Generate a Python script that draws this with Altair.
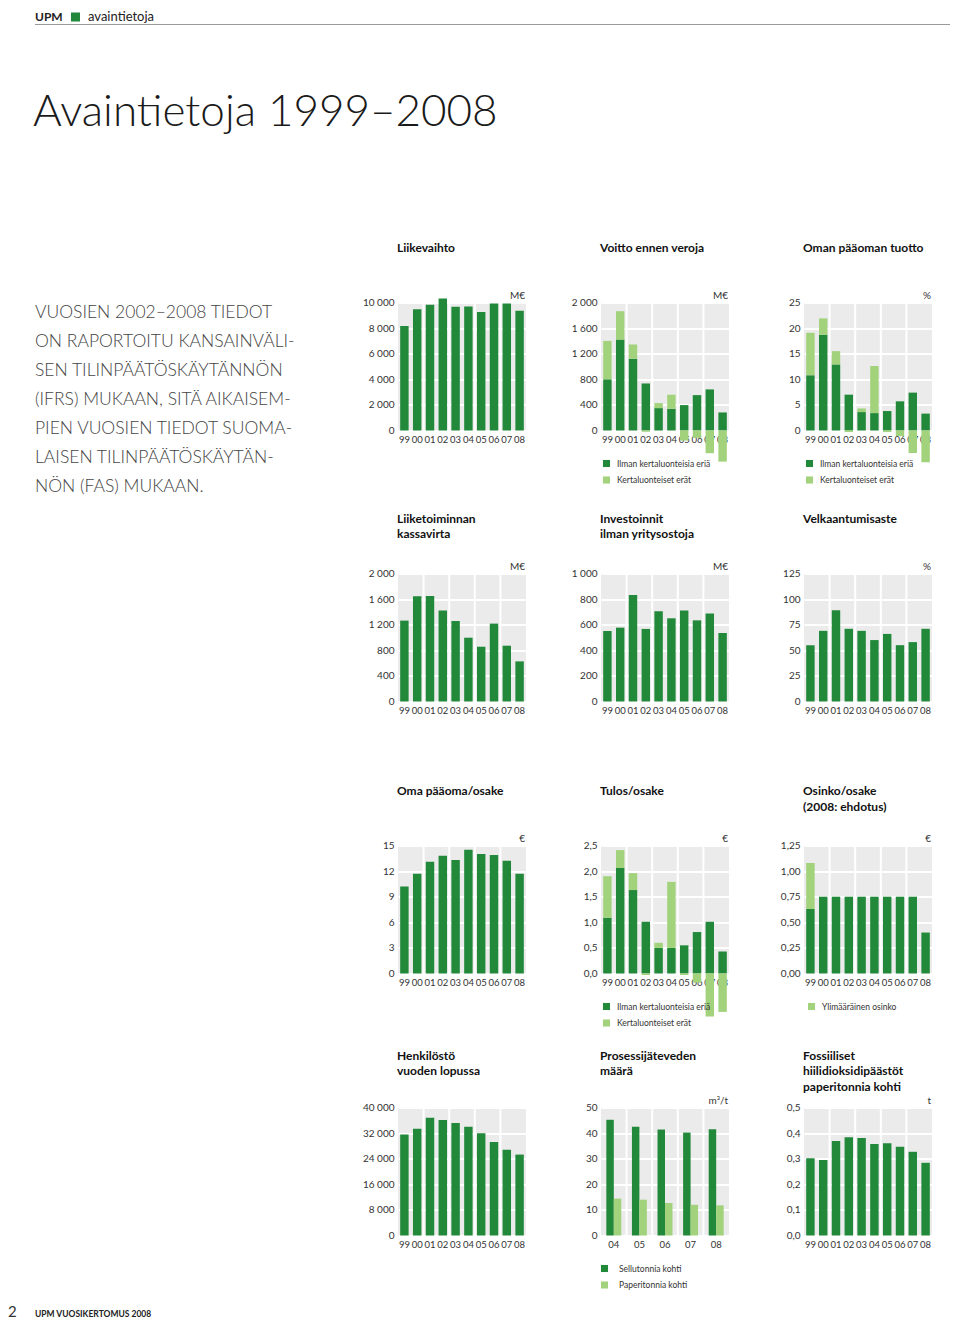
import altair as alt
import pandas as pd

FONT = "Lato"
DARK = "#22893b"
LIGHT = "#a2d27c"
GRAY = "#ebebeb"
TXT = "#333333"
W = 128
H = 128

# ---------------- data ----------------
years = ["99", "00", "01", "02", "03", "04", "05", "06", "07", "08"]
liikevaihto = [8170, 9480, 9820, 10310, 9660, 9690, 9250, 9920, 9920, 9360]
voitto_ilman = [800, 1420, 1120, 735, 350, 340, 397, 553, 642, 282]
voitto_kerta = [600, 444, 224, -20, 78, 219, -157, -115, -355, -486]
roe_ilman = [10.8, 18.7, 12.9, 7.0, 3.6, 3.4, 3.8, 5.7, 7.4, 3.3]
roe_kerta = [8.3, 3.2, 2.6, -0.3, 0.7, 9.2, -0.3, -1.1, -4.4, -6.2]
kassavirta = [1264, 1645, 1650, 1420, 1258, 997, 856, 1217, 872, 627]
investoinnit = [551, 577, 833, 567, 705, 650, 710, 634, 687, 535]
velkaantumisaste = [55, 69, 89, 71, 69, 60, 66, 55, 58, 71]
oma_paaoma = [10.2, 11.7, 13.1, 13.8, 13.3, 14.5, 14.0, 13.9, 13.2, 11.7]
tulos_ilman = [1.09, 2.06, 1.63, 1.01, 0.50, 0.50, 0.55, 0.81, 1.01, 0.43]
tulos_kerta = [0.81, 0.35, 0.33, -0.03, 0.10, 1.29, -0.03, -0.18, -0.84, -0.75]
osinko = [0.63, 0.75, 0.75, 0.75, 0.75, 0.75, 0.75, 0.75, 0.75, 0.40]
osinko_ylim = [0.45, 0, 0, 0, 0, 0, 0, 0, 0, 0]
henkilosto = [31540, 33330, 36830, 36100, 35130, 33970, 31960, 29210, 26770, 25290]
water_years = ["04", "05", "06", "07", "08"]
sellu = [45.2, 42.5, 41.4, 40.2, 41.5]
paperi = [14.4, 14.0, 12.7, 12.0, 11.8]
co2 = [0.302, 0.295, 0.369, 0.384, 0.381, 0.357, 0.360, 0.347, 0.327, 0.284]

leg_kerta = ["Ilman kertaluonteisia eriä", "Kertaluonteiset erät"]
leg_osinko = ["Ylimääräinen osinko"]
leg_water = ["Sellutonnia kohti", "Paperitonnia kohti"]

left_text = ("VUOSIEN 2002–2008 TIEDOT\nON RAPORTOITU KANSAINVÄLI-\nSEN TILINPÄÄTÖSKÄYTÄNNÖN\n"
             "(IFRS) MUKAAN, SITÄ AIKAISEM-\nPIEN VUOSIEN TIEDOT SUOMA-\nLAISEN TILINPÄÄTÖSKÄYTÄN-\n"
             "NÖN (FAS) MUKAAN.")

KIND = ["main", "extra"]
THOU = "replace(format(datum.value, ',d'), ',', ' ')"
INT = "format(datum.value, 'd')"


def dec(n):
    return f"replace(format(datum.value, '.{n}f'), '.', ',')"


def xaxis():
    return alt.Axis(labelAngle=0, domain=False, ticks=False, labelPadding=4,
                    labelFontSize=9.5, labelColor=TXT, labelFont=FONT, title=None,
                    grid=False, labelOverlap=False)


def yaxis(ticks, expr):
    return alt.Axis(values=ticks, labelExpr=expr, domain=False, ticks=False, grid=True,
                    gridColor="white", gridWidth=2, labelPadding=4, labelFontSize=10,
                    labelColor=TXT, labelFont=FONT, title=None)


def txt(s, x, y, size, weight="normal", color=TXT, align="left", baseline="alphabetic", lh=None):
    kw = dict(font=FONT, fontSize=size, fontWeight=weight, color=color, align=align,
              baseline=baseline)
    if lh:
        kw["lineBreak"] = "\n"
        kw["lineHeight"] = lh
    return alt.Chart(pd.DataFrame({"t": [s]})).mark_text(**kw).encode(
        text="t:N", x=alt.value(x), y=alt.value(y))


def square(x, y, color, size=50):
    return alt.Chart(pd.DataFrame({"k": [0]})).mark_square(size=size, color=color, opacity=1).encode(
        x=alt.value(x), y=alt.value(y))


def legend(labels, colors, sx, tx):
    layers = []
    for i, (lab, c) in enumerate(zip(labels, colors)):
        y = 161 + 16.5 * i
        layers.append(square(sx, y, c))
        layers.append(txt(lab, tx, y, 8.5, baseline="middle"))
    return layers


def panel(cats, series, ymax, ticks, expr, unit, title, ty, lh=15.5, grouped=False, leg=None, extra=None):
    xs = alt.Scale(domain=cats, paddingInner=0, paddingOuter=0)
    ys = alt.Scale(domain=[0, ymax], nice=False, zero=True)
    seps = cats[1:] if grouped else [c for i, c in enumerate(cats) if i % 2 == 0 and i > 0]
    rules = alt.Chart(pd.DataFrame({"year": seps})).mark_rule(color="white", strokeWidth=2).encode(
        x=alt.X("year:N", bandPosition=0, scale=xs, sort=cats, axis=xaxis()))
    rows = []
    for k, vals in enumerate(series):
        for c, v in zip(cats, vals):
            rows.append({"year": c, "v": v, "kind": KIND[k], "ord": k})
    df = pd.DataFrame(rows)
    cscale = alt.Scale(domain=KIND, range=[DARK, LIGHT])
    if grouped:
        bars = alt.Chart(df).mark_bar().encode(
            x=alt.X("year:N", scale=xs, sort=cats, axis=xaxis()),
            xOffset=alt.XOffset("kind:N", sort=KIND,
                                scale=alt.Scale(domain=KIND, paddingInner=0, paddingOuter=0.71)),
            y=alt.Y("v:Q", scale=ys, axis=yaxis(ticks, expr)),
            color=alt.Color("kind:N", scale=cscale, legend=None))
    elif len(series) > 1:
        bars = alt.Chart(df).mark_bar(width=alt.RelativeBandSize(0.66)).encode(
            x=alt.X("year:N", scale=xs, sort=cats, axis=xaxis()),
            y=alt.Y("v:Q", stack="zero", scale=ys, axis=yaxis(ticks, expr)),
            color=alt.Color("kind:N", scale=cscale, legend=None),
            order=alt.Order("ord:Q"))
    else:
        bars = alt.Chart(df).mark_bar(width=alt.RelativeBandSize(0.66), color=DARK).encode(
            x=alt.X("year:N", scale=xs, sort=cats, axis=xaxis()),
            y=alt.Y("v:Q", scale=ys, axis=yaxis(ticks, expr)))
    layers = [rules, bars,
              txt(unit, 127, -7, 10, align="right", baseline="middle"),
              txt(title, -1, ty, 12, weight="bold", color="#111111", lh=lh)]
    if leg:
        layers += leg
    if extra:
        layers += extra
    return alt.layer(*layers).properties(width=W, height=H)


# decorations placed relative to first panel (plot origin at page 398, 302)
deco = [
    txt("UPM", -363, -285.5, 12, weight="bold", color="#222222", baseline="middle"),
    square(-322.5, -285.5, DARK, size=81),
    txt("avaintietoja", -310, -285.5, 13, color="#222222", baseline="middle"),
    alt.Chart(pd.DataFrame({"k": [0]})).mark_rule(color="#9a9a9a", strokeWidth=1.2).encode(
        x=alt.value(-363), x2=alt.value(552), y=alt.value(-278)),
    txt("Avaintietoja 1999–2008", -365, -177, 44, weight=300, color="#1a1a1a"),
    txt(left_text, -363, 15, 17.5, weight=300, color="#444444", lh=29),
    txt("2", -390, 1014, 15, color="#333333"),
    txt("UPM VUOSIKERTOMUS 2008", -363, 1014, 8.5, weight="bold", color="#222222"),
]

p1 = panel(years, [liikevaihto], 10000, [0, 2000, 4000, 6000, 8000, 10000], THOU, "M€",
           "Liikevaihto", -51, extra=deco)
p2 = panel(years, [voitto_ilman, voitto_kerta], 2000, [0, 400, 800, 1200, 1600, 2000], THOU, "M€",
           "Voitto ennen veroja", -51, leg=legend(leg_kerta, [DARK, LIGHT], 5.5, 16))
p3 = panel(years, [roe_ilman, roe_kerta], 25, [0, 5, 10, 15, 20, 25], INT, "%",
           "Oman pääoman tuotto", -51, leg=legend(leg_kerta, [DARK, LIGHT], 5.5, 16))

p4 = panel(years, [kassavirta], 2000, [0, 400, 800, 1200, 1600, 2000], THOU, "M€",
           "Liiketoiminnan\nkassavirta", -51, lh=15)
p5 = panel(years, [investoinnit], 1000, [0, 200, 400, 600, 800, 1000], THOU, "M€",
           "Investoinnit\nilman yritysostoja", -51, lh=15)
p6 = panel(years, [velkaantumisaste], 125, [0, 25, 50, 75, 100, 125], INT, "%",
           "Velkaantumisaste", -51)

p7 = panel(years, [oma_paaoma], 15, [0, 3, 6, 9, 12, 15], INT, "€",
           "Oma pääoma/osake", -51)
p8 = panel(years, [tulos_ilman, tulos_kerta], 2.5, [0, 0.5, 1.0, 1.5, 2.0, 2.5], dec(1), "€",
           "Tulos/osake", -51, leg=legend(leg_kerta, [DARK, LIGHT], 5.5, 16))
p9 = panel(years, [osinko, osinko_ylim], 1.25, [0, 0.25, 0.5, 0.75, 1.0, 1.25], dec(2), "€",
           "Osinko/osake\n(2008: ehdotus)", -51, lh=16, leg=legend(leg_osinko, [LIGHT], 7.5, 18))

p10 = panel(years, [henkilosto], 40000, [0, 8000, 16000, 24000, 32000, 40000], THOU, "",
            "Henkilöstö\nvuoden lopussa", -48)
p11 = panel(water_years, [sellu, paperi], 50, [0, 10, 20, 30, 40, 50], INT, "m³/t",
            "Prosessijäteveden\nmäärä", -48, grouped=True, leg=legend(leg_water, [DARK, LIGHT], 3.5, 18))
p12 = panel(years, [co2], 0.5, [0, 0.1, 0.2, 0.3, 0.4, 0.5], dec(1), "t",
            "Fossiiliset\nhiilidioksidipäästöt\npaperitonnia kohti", -48)

# with flush bounds nested groups count as zero-size, so spacing equals row pitch
row1 = alt.hconcat(p1, p2, p3, spacing=75, bounds="flush")
row2 = alt.hconcat(p4, p5, p6, spacing=75, bounds="flush")
row3 = alt.hconcat(p7, p8, p9, spacing=75, bounds="flush")
row4 = alt.hconcat(p10, p11, p12, spacing=75, bounds="flush")

A = alt.vconcat(row1, row2, spacing=271, bounds="flush")
B = alt.vconcat(row3, row4, spacing=262, bounds="flush")

chart = alt.vconcat(A, B, spacing=543, bounds="flush").properties(
    padding={"top": 2.5, "left": 0, "right": 0, "bottom": 0}, background="white"
).configure_view(fill=GRAY, strokeWidth=0)

chart.save("out.html", embed_options={"renderer": "svg", "actions": False})
